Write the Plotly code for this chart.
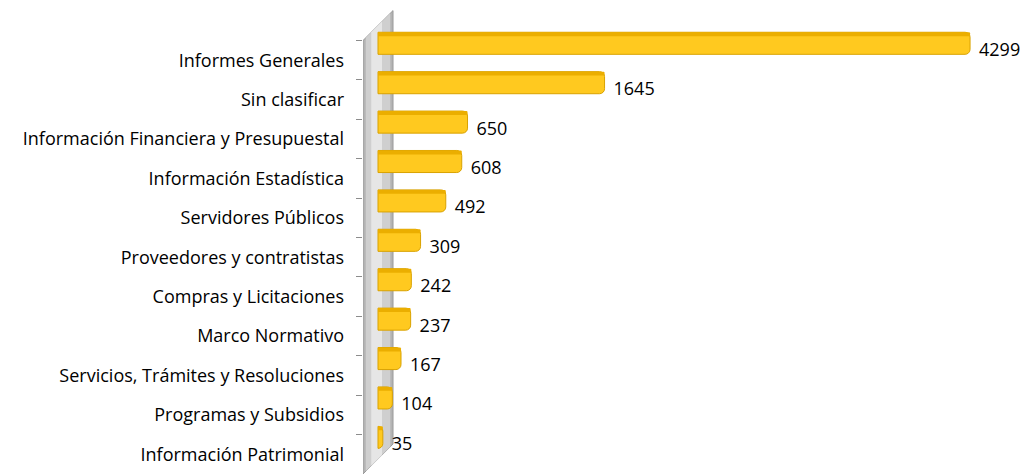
import plotly.graph_objects as go

categories = [
    "Informes Generales",
    "Sin clasificar",
    "Información Financiera y Presupuestal",
    "Información Estadística",
    "Servidores Públicos",
    "Proveedores y contratistas",
    "Compras y Licitaciones",
    "Marco Normativo",
    "Servicios, Trámites y Resoluciones",
    "Programas y Subsidios",
    "Información Patrimonial",
]
values = [4299, 1645, 650, 608, 492, 309, 242, 237, 167, 104, 35]

FONT = "Open Sans"
BAR_W = 0.56
BAR_OFF = -0.71

fig = go.Figure()

# main bar body
fig.add_trace(go.Bar(
    x=values, y=categories, orientation="h",
    width=BAR_W, offset=BAR_OFF,
    marker=dict(color="#FFC91F", line=dict(color="#D9A200", width=1), cornerradius=5),
    cliponaxis=False, hoverinfo="x+y",
))
# darker top edge strip
fig.add_trace(go.Bar(
    x=values, y=categories, orientation="h",
    width=0.10, offset=BAR_OFF,
    marker=dict(color="#EBAE00", line=dict(width=0), cornerradius=3),
    hoverinfo="skip", cliponaxis=False,
))
# value labels
fig.add_trace(go.Scatter(
    x=values, y=categories, mode="text",
    text=[f"\u2009\u2009\u2009{v}" for v in values], textposition="top right",
    textfont=dict(family=FONT, size=18, color="#000000"),
    cliponaxis=False, hoverinfo="skip",
))

# gray wall (parallelogram) drawn in data coordinates
XL, XR = -109, 109
Y0, Y1, DY = -0.5, 10.5, 0.76
def para(x0, x1, col, lw=0, lc=None):
    path = (f"M {x0},{Y0 - DY*(x0-XL)/(XR-XL)} L {x1},{Y0 - DY*(x1-XL)/(XR-XL)} "
            f"L {x1},{Y1 - DY*(x1-XL)/(XR-XL)} L {x0},{Y1 - DY*(x0-XL)/(XR-XL)} Z")
    return dict(type="path", path=path, xref="x", yref="y", fillcolor=col,
                line=dict(width=lw, color=lc or col), layer="below")

shapes = [
    para(XL, XR, "#B4B4B4", 1, "#9A9A9A"),
    para(XL + 20, XR - 20, "#CFCFCF"),
    para(XL + 60, XR - 80, "#E6E6E6"),
]

fig.update_layout(
    width=1021, height=475,
    margin=dict(l=363, r=11, t=9, b=1, autoexpand=False),
    paper_bgcolor="white", plot_bgcolor="white",
    barmode="overlay", showlegend=False,
    shapes=shapes,
    xaxis=dict(range=[-109, 4589], visible=False, showgrid=False, zeroline=False,
               automargin=False),
    yaxis=dict(
        type="category", categoryorder="array", categoryarray=categories,
        range=[10.5, -1.3], tickson="boundaries", ticks="outside", ticklen=6,
        tickcolor="#8C8C8C", tickwidth=1, showline=False, showgrid=False,
        ticklabelstandoff=18, automargin=False,
        tickfont=dict(family=FONT, size=18, color="#000000"),
    ),
)

# remove the page's default body margin so the figure fills the window exactly
fig.write_html(
    "out.html",
    config={"displayModeBar": False},
    post_script="document.body.style.margin='0';document.body.style.overflow='hidden';",
)
